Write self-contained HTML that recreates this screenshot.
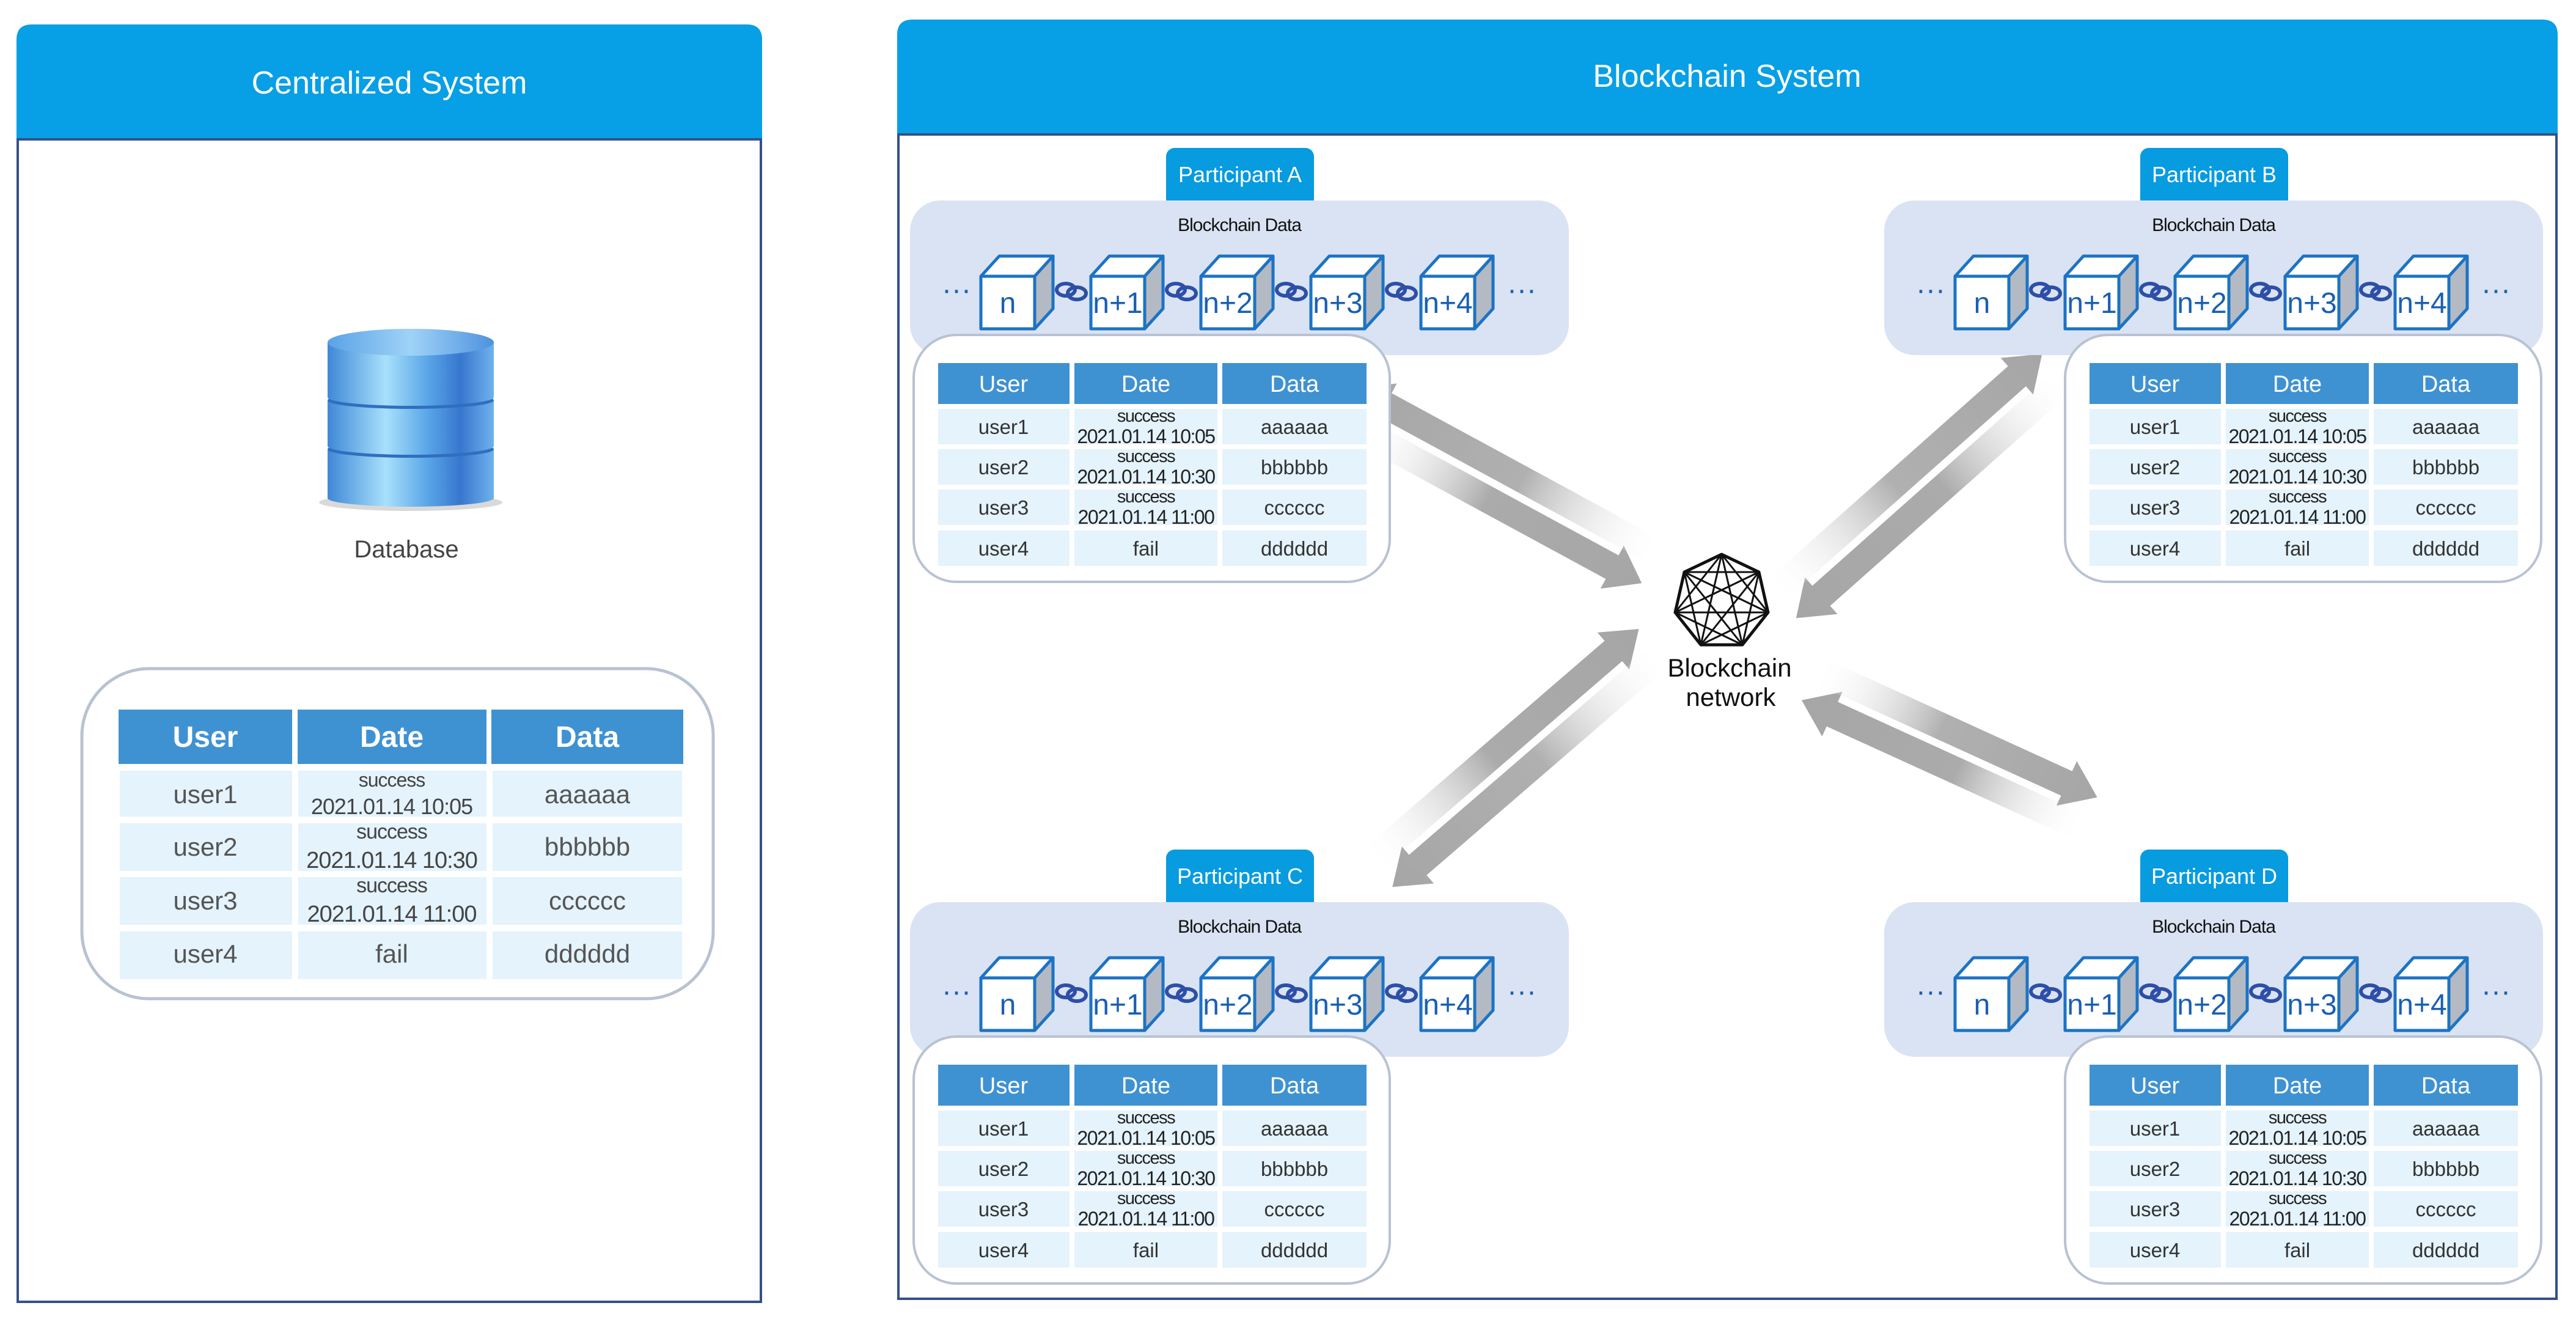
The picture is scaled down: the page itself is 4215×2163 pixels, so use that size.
<!DOCTYPE html>
<html><head><meta charset="utf-8"><style>
html,body{margin:0;padding:0;background:#fff;width:4215px;height:2163px;overflow:hidden}
svg{display:block}
text{font-family:"Liberation Sans Narrow","Liberation Sans",sans-serif}
</style></head><body>
<svg width="4215" height="2163" viewBox="0 0 4215 2163" xmlns="http://www.w3.org/2000/svg">
<defs>
<linearGradient id="gIn" x1="0" y1="0" x2="1" y2="0"><stop offset="0" stop-color="#fff" stop-opacity="0"/><stop offset="0.45" stop-color="#ababab"/><stop offset="1" stop-color="#a6a6a6"/></linearGradient>
<linearGradient id="gOut" x1="0" y1="0" x2="1" y2="0"><stop offset="0" stop-color="#a6a6a6"/><stop offset="0.55" stop-color="#b0b0b0"/><stop offset="1" stop-color="#fff" stop-opacity="0"/></linearGradient>
<linearGradient id="cyl" x1="0" y1="0" x2="1" y2="0"><stop offset="0" stop-color="#3f88d8"/><stop offset="0.35" stop-color="#a8e0fb"/><stop offset="0.6" stop-color="#5aa6e8"/><stop offset="0.8" stop-color="#3777cf"/><stop offset="1" stop-color="#6fb2ec"/></linearGradient>
<linearGradient id="cylTop" x1="0" y1="0" x2="1" y2="0"><stop offset="0" stop-color="#5aa2e6"/><stop offset="0.5" stop-color="#9fd3f7"/><stop offset="1" stop-color="#4e92de"/></linearGradient>
<g id="cb" stroke="#1c73c4" stroke-width="5" stroke-linejoin="round">
<path d="M0,0 L30,-33 L118,-33 L88,0Z" fill="#fff"/>
<path d="M88,0 L118,-33 L118,53 L88,86Z" fill="#b3bac4"/>
<rect width="88" height="86" fill="#fff"/>
</g>
<g id="lk" fill="none" stroke="#2d4fa8" stroke-width="6">
<ellipse cx="-9" cy="-2" rx="15" ry="10"/><ellipse cx="9" cy="4" rx="15" ry="10"/>
</g>
<g id="chain">
<rect x="1908" y="242" width="242" height="100" rx="14" fill="#079be0"/>
<rect x="1489" y="328" width="1078" height="253" rx="50" fill="#dae3f3"/>
<use href="#cb" x="1605" y="452"/><use href="#cb" x="1785" y="452"/><use href="#cb" x="1965" y="452"/><use href="#cb" x="2145" y="452"/><use href="#cb" x="2325" y="452"/>
<use href="#lk" x="1753" y="476"/><use href="#lk" x="1933" y="476"/><use href="#lk" x="2113" y="476"/><use href="#lk" x="2293" y="476"/>
</g>
<g id="tbl">
<rect x="1495" y="548" width="779" height="404" rx="70" fill="#fff" stroke="#b8c2d2" stroke-width="4"/>
<rect x="1535" y="594" width="215" height="67" fill="#3f92d2"/><rect x="1758" y="594" width="234" height="67" fill="#3f92d2"/><rect x="2000" y="594" width="236" height="67" fill="#3f92d2"/>
<g fill="#e4f3fc">
<rect x="1535" y="669" width="215" height="58"/><rect x="1758" y="669" width="234" height="58"/><rect x="2000" y="669" width="236" height="58"/>
<rect x="1535" y="735" width="215" height="58"/><rect x="1758" y="735" width="234" height="58"/><rect x="2000" y="735" width="236" height="58"/>
<rect x="1535" y="801" width="215" height="58"/><rect x="1758" y="801" width="234" height="58"/><rect x="2000" y="801" width="236" height="58"/>
<rect x="1535" y="868" width="215" height="58"/><rect x="1758" y="868" width="234" height="58"/><rect x="2000" y="868" width="236" height="58"/>
</g>
</g>
</defs>

<!-- Left panel -->
<path d="M27,228 V65 Q27,40 52,40 H1222 Q1247,40 1247,65 V228Z" fill="#079fe5"/>
<rect x="29" y="228" width="1216" height="1902" fill="none" stroke="#34508a" stroke-width="4"/>
<text x="637" y="153" font-size="52" fill="#fff" text-anchor="middle" font-family="Liberation Sans,sans-serif">Centralized System</text>
<g>
<ellipse cx="672" cy="822" rx="150" ry="14" fill="#000" opacity="0.15"/>
<rect x="536" y="735" width="272" height="80" fill="url(#cyl)"/><ellipse cx="672" cy="815" rx="136" ry="14" fill="url(#cyl)"/>
<ellipse cx="672" cy="735" rx="136" ry="14" fill="#2f6fbf"/>
<rect x="536" y="655" width="272" height="75" fill="url(#cyl)"/><ellipse cx="672" cy="730" rx="136" ry="14" fill="url(#cyl)"/>
<ellipse cx="672" cy="655" rx="136" ry="14" fill="#2f6fbf"/>
<rect x="536" y="560" width="272" height="90" fill="url(#cyl)"/><ellipse cx="672" cy="650" rx="136" ry="14" fill="url(#cyl)"/>
<ellipse cx="672" cy="560" rx="136" ry="22" fill="url(#cylTop)"/>
</g>
<text x="665" y="912" font-size="40" fill="#444" text-anchor="middle" font-family="Liberation Sans,sans-serif">Database</text>
<rect x="134" y="1094" width="1033" height="540" rx="110" fill="#fff" stroke="#b8c2d2" stroke-width="5"/>
<g fill="#3f92d2"><rect x="194" y="1161" width="284" height="89"/><rect x="487" y="1161" width="309" height="89"/><rect x="804" y="1161" width="314" height="89"/></g>
<g fill="#e4f3fc">
<rect x="196" y="1261" width="282" height="75"/><rect x="488" y="1261" width="308" height="75"/><rect x="806" y="1261" width="310" height="75"/>
<rect x="196" y="1347" width="282" height="78"/><rect x="488" y="1347" width="308" height="78"/><rect x="806" y="1347" width="310" height="78"/>
<rect x="196" y="1435" width="282" height="78"/><rect x="488" y="1435" width="308" height="78"/><rect x="806" y="1435" width="310" height="78"/>
<rect x="196" y="1524" width="282" height="78"/><rect x="488" y="1524" width="308" height="78"/><rect x="806" y="1524" width="310" height="78"/>
</g>
<g font-family="Liberation Sans,sans-serif" text-anchor="middle">
<g font-size="48" fill="#fff" font-weight="bold"><text x="336" y="1222">User</text><text x="641" y="1222">Date</text><text x="961" y="1222">Data</text></g>
<g font-size="42" fill="#555">
<text x="336" y="1314">user1</text><text x="961" y="1314">aaaaaa</text>
<text x="336" y="1400">user2</text><text x="961" y="1400">bbbbbb</text>
<text x="336" y="1488">user3</text><text x="961" y="1488">cccccc</text>
<text x="336" y="1575">user4</text><text x="641" y="1575">fail</text><text x="961" y="1575">dddddd</text>
</g>
<g fill="#444" letter-spacing="-1">
<text x="641" y="1287" font-size="32">success</text><text x="641" y="1332" font-size="36">2021.01.14 10:05</text>
<text x="641" y="1372" font-size="34">success</text><text x="641" y="1420" font-size="38">2021.01.14 10:30</text>
<text x="641" y="1460" font-size="34">success</text><text x="641" y="1508" font-size="38">2021.01.14 11:00</text>
</g>
</g>

<!-- Right panel -->
<path d="M1468,220 V57 Q1468,32 1493,32 H4160 Q4185,32 4185,57 V220Z" fill="#079fe5"/>
<rect x="1470" y="220" width="2713" height="1905" fill="none" stroke="#34508a" stroke-width="4"/>
<text x="2826" y="142" font-size="52" fill="#fff" text-anchor="middle" font-family="Liberation Sans,sans-serif">Blockchain System</text>

<!-- arrows -->
<g transform="translate(2240,680) rotate(28.5)">
<polygon points="0,6 468,6 468,-12 523,28 468,68 468,50 0,50" fill="url(#gIn)"/>
<polygon points="-40,-28 15,-68 15,-50 523,-50 523,-6 15,-6 15,12" fill="url(#gOut)"/>
</g>
<g transform="translate(3360,600) rotate(138.4)">
<polygon points="0,-50 533,-50 533,-68 588,-28 533,12 533,-6 0,-6" fill="url(#gIn)"/>
<polygon points="0,28 55,-12 55,6 588,6 588,50 55,50 55,68" fill="url(#gOut)"/>
</g>
<g transform="translate(2260,1430) rotate(-40.8)">
<polygon points="0,-50 526,-50 526,-68 581,-28 526,12 526,-6 0,-6" fill="url(#gIn)"/>
<polygon points="0,28 55,-12 55,6 581,6 581,50 55,50 55,68" fill="url(#gOut)"/>
</g>
<g transform="translate(3420,1330) rotate(-155.5)">
<polygon points="0,-50 451,-50 451,-68 506,-28 451,12 451,-6 0,-6" fill="url(#gIn)"/>
<polygon points="0,28 55,-12 55,6 506,6 506,50 55,50 55,68" fill="url(#gOut)"/>
</g>

<!-- network -->
<g fill="none" stroke="#111" stroke-width="3" stroke-linejoin="round">
<polygon points="2817,907 2878,936 2893,1002 2851,1055 2783,1055 2741,1002 2756,936" stroke-width="5"/>
<path d="M2817,907L2893,1002M2817,907L2851,1055M2817,907L2783,1055M2817,907L2741,1002M2878,936L2851,1055M2878,936L2783,1055M2878,936L2741,1002M2878,936L2756,936M2893,1002L2783,1055M2893,1002L2741,1002M2893,1002L2756,936M2851,1055L2741,1002M2851,1055L2756,936M2783,1055L2756,936"/>
</g>
<text x="2830" y="1107" font-size="42" fill="#111" text-anchor="middle">Blockchain</text>
<text x="2832" y="1155" font-size="42" fill="#111" text-anchor="middle">network</text>

<use href="#chain"/>
<use href="#chain" x="1594"/>
<use href="#chain" y="1148"/>
<use href="#chain" x="1594" y="1148"/>

<g fill="#fff" font-size="36" text-anchor="middle">
<text x="2029" y="298">Participant A</text>
<text x="3623" y="298">Participant B</text>
<text x="2029" y="1446">Participant C</text>
<text x="3623" y="1446">Participant D</text>
</g>
<g fill="#111" font-size="30" text-anchor="middle" letter-spacing="-1">
<text x="2028" y="378">Blockchain Data</text><text x="3622" y="378">Blockchain Data</text>
<text x="2028" y="1526">Blockchain Data</text><text x="3622" y="1526">Blockchain Data</text>
</g>
<g fill="#1a5fb0" font-size="48" text-anchor="middle">
<g><text x="1565" y="490">···</text><text x="1649" y="512">n</text><text x="1829" y="512">n+1</text><text x="2009" y="512">n+2</text><text x="2189" y="512">n+3</text><text x="2369" y="512">n+4</text><text x="2490" y="490">···</text></g>
<g transform="translate(1594,0)"><text x="1565" y="490">···</text><text x="1649" y="512">n</text><text x="1829" y="512">n+1</text><text x="2009" y="512">n+2</text><text x="2189" y="512">n+3</text><text x="2369" y="512">n+4</text><text x="2490" y="490">···</text></g>
<g transform="translate(0,1148)"><text x="1565" y="490">···</text><text x="1649" y="512">n</text><text x="1829" y="512">n+1</text><text x="2009" y="512">n+2</text><text x="2189" y="512">n+3</text><text x="2369" y="512">n+4</text><text x="2490" y="490">···</text></g>
<g transform="translate(1594,1148)"><text x="1565" y="490">···</text><text x="1649" y="512">n</text><text x="1829" y="512">n+1</text><text x="2009" y="512">n+2</text><text x="2189" y="512">n+3</text><text x="2369" y="512">n+4</text><text x="2490" y="490">···</text></g>
</g>

<use href="#tbl"/>
<use href="#tbl" x="1884"/>
<use href="#tbl" y="1148"/>
<use href="#tbl" x="1884" y="1148"/>

<g text-anchor="middle">
<g>
<g fill="#fff" font-size="38"><text x="1642" y="641">User</text><text x="1875" y="641">Date</text><text x="2118" y="641">Data</text></g>
<g fill="#333" font-size="33"><text x="1642" y="710">user1</text><text x="2118" y="710">aaaaaa</text><text x="1642" y="776">user2</text><text x="2118" y="776">bbbbbb</text><text x="1642" y="842">user3</text><text x="2118" y="842">cccccc</text><text x="1642" y="909">user4</text><text x="1875" y="909">fail</text><text x="2118" y="909">dddddd</text></g>
<g fill="#222" letter-spacing="-1.5"><text x="1875" y="690" font-size="29">success</text><text x="1875" y="725" font-size="32">2021.01.14 10:05</text><text x="1875" y="756" font-size="29">success</text><text x="1875" y="791" font-size="32">2021.01.14 10:30</text><text x="1875" y="822" font-size="29">success</text><text x="1875" y="857" font-size="32">2021.01.14 11:00</text></g>
</g>
<g transform="translate(1884,0)">
<g fill="#fff" font-size="38"><text x="1642" y="641">User</text><text x="1875" y="641">Date</text><text x="2118" y="641">Data</text></g>
<g fill="#333" font-size="33"><text x="1642" y="710">user1</text><text x="2118" y="710">aaaaaa</text><text x="1642" y="776">user2</text><text x="2118" y="776">bbbbbb</text><text x="1642" y="842">user3</text><text x="2118" y="842">cccccc</text><text x="1642" y="909">user4</text><text x="1875" y="909">fail</text><text x="2118" y="909">dddddd</text></g>
<g fill="#222" letter-spacing="-1.5"><text x="1875" y="690" font-size="29">success</text><text x="1875" y="725" font-size="32">2021.01.14 10:05</text><text x="1875" y="756" font-size="29">success</text><text x="1875" y="791" font-size="32">2021.01.14 10:30</text><text x="1875" y="822" font-size="29">success</text><text x="1875" y="857" font-size="32">2021.01.14 11:00</text></g>
</g>
<g transform="translate(0,1148)">
<g fill="#fff" font-size="38"><text x="1642" y="641">User</text><text x="1875" y="641">Date</text><text x="2118" y="641">Data</text></g>
<g fill="#333" font-size="33"><text x="1642" y="710">user1</text><text x="2118" y="710">aaaaaa</text><text x="1642" y="776">user2</text><text x="2118" y="776">bbbbbb</text><text x="1642" y="842">user3</text><text x="2118" y="842">cccccc</text><text x="1642" y="909">user4</text><text x="1875" y="909">fail</text><text x="2118" y="909">dddddd</text></g>
<g fill="#222" letter-spacing="-1.5"><text x="1875" y="690" font-size="29">success</text><text x="1875" y="725" font-size="32">2021.01.14 10:05</text><text x="1875" y="756" font-size="29">success</text><text x="1875" y="791" font-size="32">2021.01.14 10:30</text><text x="1875" y="822" font-size="29">success</text><text x="1875" y="857" font-size="32">2021.01.14 11:00</text></g>
</g>
<g transform="translate(1884,1148)">
<g fill="#fff" font-size="38"><text x="1642" y="641">User</text><text x="1875" y="641">Date</text><text x="2118" y="641">Data</text></g>
<g fill="#333" font-size="33"><text x="1642" y="710">user1</text><text x="2118" y="710">aaaaaa</text><text x="1642" y="776">user2</text><text x="2118" y="776">bbbbbb</text><text x="1642" y="842">user3</text><text x="2118" y="842">cccccc</text><text x="1642" y="909">user4</text><text x="1875" y="909">fail</text><text x="2118" y="909">dddddd</text></g>
<g fill="#222" letter-spacing="-1.5"><text x="1875" y="690" font-size="29">success</text><text x="1875" y="725" font-size="32">2021.01.14 10:05</text><text x="1875" y="756" font-size="29">success</text><text x="1875" y="791" font-size="32">2021.01.14 10:30</text><text x="1875" y="822" font-size="29">success</text><text x="1875" y="857" font-size="32">2021.01.14 11:00</text></g>
</g>
</g>
</svg>
</body></html>
